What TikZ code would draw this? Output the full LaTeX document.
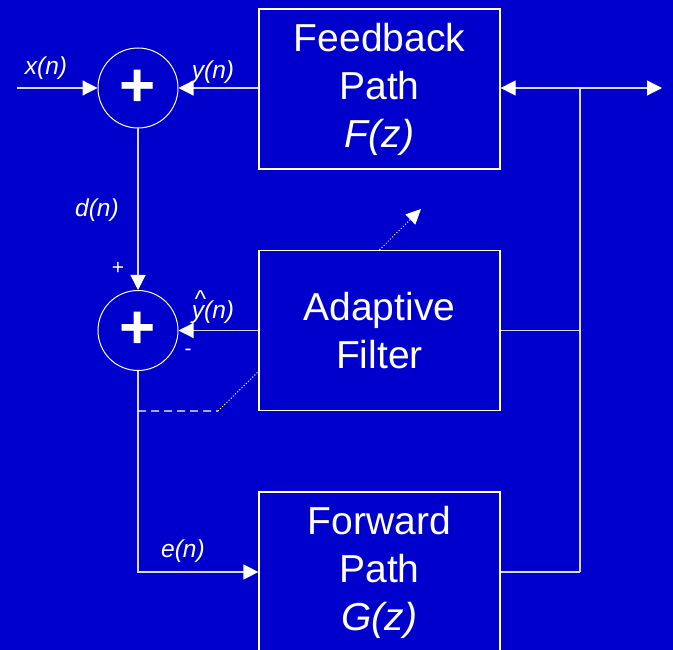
\documentclass[tikz,border=0pt]{standalone}
\usepackage{fontspec}
\setmainfont{Liberation Sans}
\usetikzlibrary{arrows.meta,calc}
\definecolor{bg}{RGB}{0,0,204}
\definecolor{ln}{RGB}{215,215,255}
\begin{document}
\begin{tikzpicture}[x=1pt,y=-1pt,
 blockbox/.style={draw=white,line width=1.2pt,minimum width=241pt,minimum height=160pt,inner sep=0pt,text=white,align=center,font=\fontsize{39}{48}\selectfont},
 sumnode/.style={circle,draw=white,line width=1pt,minimum size=80pt,inner sep=0pt,text=white,font=\fontsize{62}{62}\selectfont\bfseries},
 conn/.style={draw=ln,line width=1.2pt},
 tipw/.tip={Triangle[length=15pt,width=15pt,color=white]},
 arr/.style={conn,-tipw},
 fine/.style={draw=white,line width=1pt,dash pattern=on 1pt off 2pt},
 sig/.style={text=white,font=\fontsize{24.5}{24.5}\selectfont\itshape},
 sgn/.style={text=white,font=\fontsize{21}{21}\selectfont}
]
\useasboundingbox (0,0) rectangle (673,650);
\clip (0,0) rectangle (673,650);
\fill[bg] (0,0) rectangle (673,650);

\node[blockbox] (fb) at (379.5,89) {Feedback\\Path\\\textit{F(z)}};
\node[blockbox] (af) at (379.5,330.5) {Adaptive\\Filter};
\node[blockbox] (fw) at (379.5,572) {Forward\\Path\\\textit{G(z)}};

\node[sumnode] (s1) at (138,88) {+};
\node[sumnode] (s2) at (138,330.5) {+};

\coordinate (xin) at (17,88);
\coordinate (out) at (662,88);
\coordinate (tap) at (580,88);

% input and feedback
\draw[arr] (xin) -- (s1.west);
\draw[arr] (fb.west |- s1.east) -- (s1.east);
\draw[conn,tipw-tipw] (fb.east |- out) -- (out);
\draw[conn] (tap) -- (tap |- fw.east);
\draw[conn] (af.east) -- (af.east -| tap);
\draw[conn] (fw.east) -- (fw.east -| tap);

% sums
\draw[arr] (s1.south) -- (s2.north);
\draw[arr] (af.west |- s2.east) -- (s2.east);
\draw[arr] (s2.south) -- (s2.south |- fw.west) -- (fw.west);

% error to adaptive filter
\coordinate (d1) at (s2.south |- af.south);
\coordinate (d2) at (218,411);
\coordinate (d3) at (259,371);
\draw[draw=white,line width=1.2pt,dash pattern=on 8pt off 5pt] (d1) -- (d2);
\draw[fine] (d2) -- (d3);

% adaptation arrow
\coordinate (ad) at (421,209);
\draw[fine,-{Triangle[length=15pt,width=14pt,color=white]}] (af.north) -- (ad);

% labels
\node[sig] (lx) at (46,68) {x(n)};
\node[sig] (ly) at (213,72) {y(n)};
\node[sig] (ld) at (97,210) {d(n)};
\node[sig] (lyh) at (213,307) {\makebox[0pt][l]{\hspace{0.1em}\raisebox{0.42em}{\textasciicircum}}y(n)};
\node[sig] (le) at (183,551) {e(n)};
\node[sgn] (lp) at (118,268) {+};
\node[sgn] (lm) at (188,352) {-};
\end{tikzpicture}
\end{document}
